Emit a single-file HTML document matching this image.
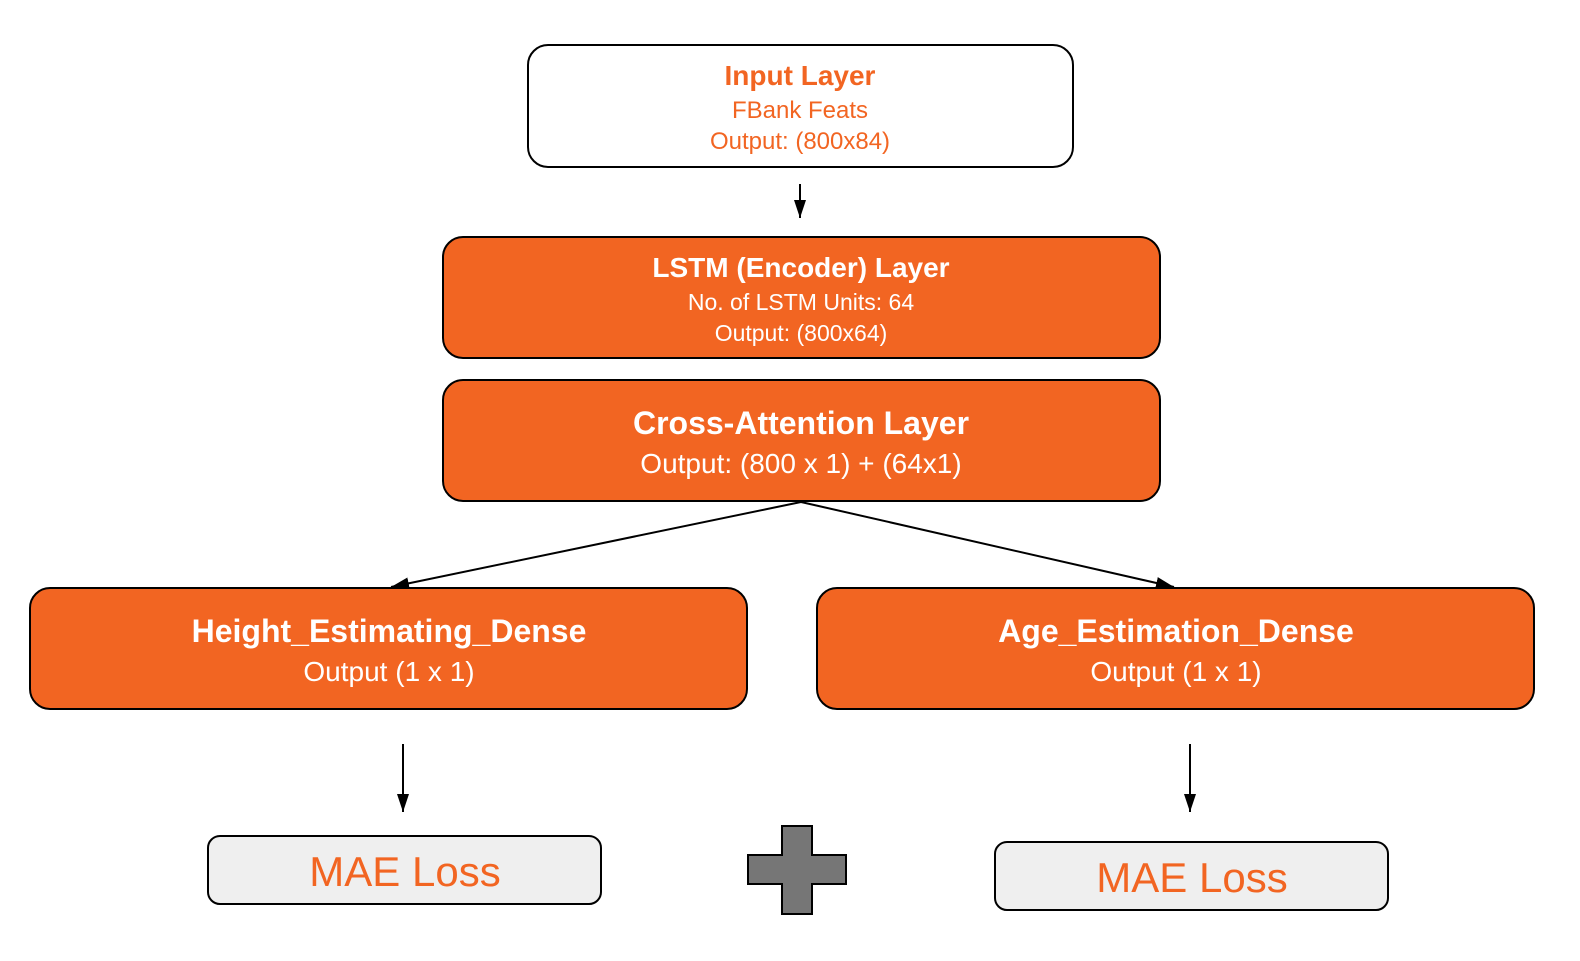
<!DOCTYPE html>
<html><head><meta charset="utf-8"><style>
html,body{margin:0;padding:0;background:#fff;}
svg text{font-family:"Liberation Sans",sans-serif;text-anchor:middle;}
</style></head><body>
<svg width="1580" height="956" viewBox="0 0 1580 956" xmlns="http://www.w3.org/2000/svg">
<defs><marker id="a" markerWidth="20" markerHeight="14" refX="18" refY="7" orient="auto" markerUnits="userSpaceOnUse"><path d="M0,1 L18,7 L0,13 z" fill="#000"/></marker></defs>
<rect x="528" y="45" width="545" height="122" rx="20" fill="#fff" stroke="#000" stroke-width="2"/>
<text x="800" y="85" font-size="28" font-weight="bold" fill="#F26522">Input Layer</text>
<text x="800" y="118" font-size="24" fill="#F26522">FBank Feats</text>
<text x="800" y="149" font-size="24" fill="#F26522">Output: (800x84)</text>
<line x1="800" y1="184" x2="800" y2="218" stroke="#000" stroke-width="2" marker-end="url(#a)"/>
<rect x="443" y="237" width="717" height="121" rx="20" fill="#F26522" stroke="#000" stroke-width="2"/>
<text x="801" y="277" font-size="28" font-weight="bold" fill="#fff">LSTM (Encoder) Layer</text>
<text x="801" y="310" font-size="23" fill="#fff">No. of LSTM Units: 64</text>
<text x="801" y="341" font-size="23" fill="#fff">Output: (800x64)</text>
<rect x="443" y="380" width="717" height="121" rx="20" fill="#F26522" stroke="#000" stroke-width="2"/>
<text x="801" y="434" font-size="32" font-weight="bold" fill="#fff">Cross-Attention Layer</text>
<text x="801" y="473" font-size="28" fill="#fff">Output: (800 x 1) + (64x1)</text>
<line x1="801" y1="502" x2="391" y2="587" stroke="#000" stroke-width="2" marker-end="url(#a)"/>
<line x1="801" y1="502" x2="1174" y2="587" stroke="#000" stroke-width="2" marker-end="url(#a)"/>
<rect x="30" y="588" width="717" height="121" rx="20" fill="#F26522" stroke="#000" stroke-width="2"/>
<text x="389" y="642" font-size="32" font-weight="bold" fill="#fff">Height_Estimating_Dense</text>
<text x="389" y="681" font-size="28" fill="#fff">Output (1 x 1)</text>
<rect x="817" y="588" width="717" height="121" rx="20" fill="#F26522" stroke="#000" stroke-width="2"/>
<text x="1176" y="642" font-size="32" font-weight="bold" fill="#fff">Age_Estimation_Dense</text>
<text x="1176" y="681" font-size="28" fill="#fff">Output (1 x 1)</text>
<line x1="403" y1="744" x2="403" y2="812" stroke="#000" stroke-width="2" marker-end="url(#a)"/>
<line x1="1190" y1="744" x2="1190" y2="812" stroke="#000" stroke-width="2" marker-end="url(#a)"/>
<rect x="208" y="836" width="393" height="68" rx="12" fill="#EFEFEF" stroke="#000" stroke-width="2"/>
<text x="405" y="886" font-size="42" fill="#F26522">MAE Loss</text>
<rect x="995" y="842" width="393" height="68" rx="12" fill="#EFEFEF" stroke="#000" stroke-width="2"/>
<text x="1192" y="892" font-size="42" fill="#F26522">MAE Loss</text>
<path d="M782,826 H812 V855 H846 V884 H812 V914 H782 V884 H748 V855 H782 Z" fill="#767676" stroke="#000" stroke-width="2"/>
</svg>
</body></html>
